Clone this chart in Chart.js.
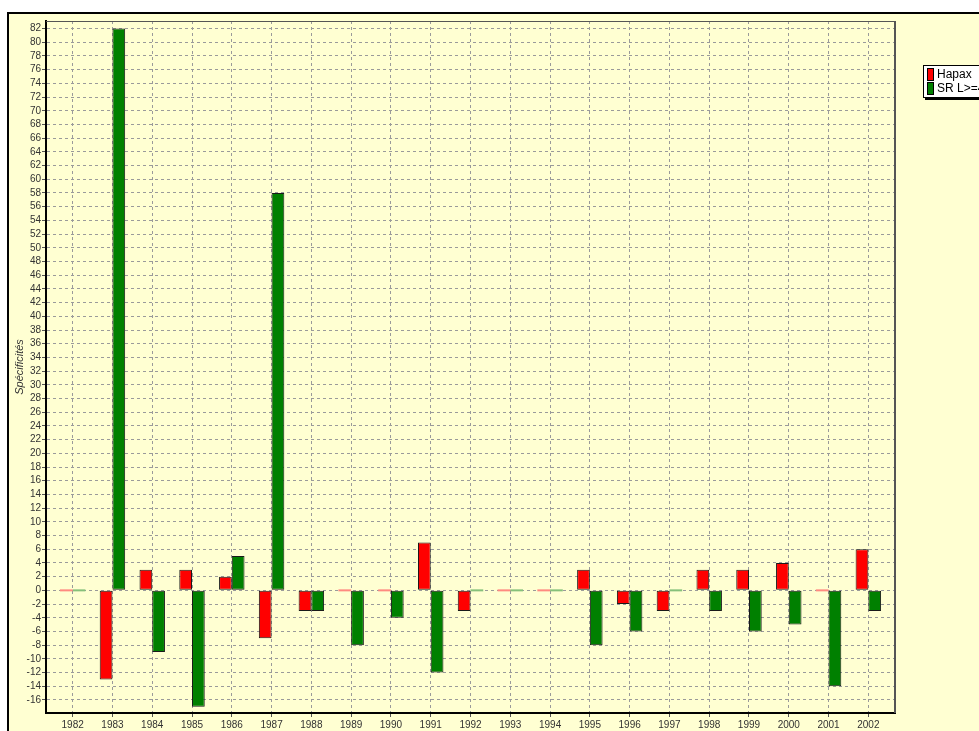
<!DOCTYPE html>
<html>
<head>
<meta charset="utf-8">
<script src="https://cdn.jsdelivr.net/npm/chart.js@4/dist/chart.umd.min.js"></script>
<style>
    body { margin: 0; background: #ffffff; overflow: hidden; font-family: "Liberation Sans", Arial, sans-serif; }
    #frame {
        position: absolute; left: 7px; top: 12px; width: 980px; height: 730px;
        border-left: 2px solid #000; border-top: 2px solid #000;
        background: #ffffd2;
    }
    #chart { position: absolute; left: 0; top: 0; }
    #legend {
        position: absolute; left: 914px; top: 51px; width: 80px; height: 31px;
        background: #fff; border: 1px solid #000; box-shadow: 2px 2px 0 #000;
        font-size: 12px; color: #000;
    }
    .item { position: absolute; left: 3px; height: 13px; line-height: 13px; white-space: nowrap; }
    .swatch { display: inline-block; width: 5px; height: 11px; border: 1px solid #000; vertical-align: top; margin-right: 3px; }
</style>
</head>
<body>
<div id="frame">
    <canvas id="chart" width="970" height="717"></canvas>
    <div id="legend">
        <div class="item" style="top:2px"><span class="swatch" style="background:#ff0000"></span>Hapax</div>
        <div class="item" style="top:16px"><span class="swatch" style="background:#008000"></span>SR L&gt;=4</div>
    </div>
</div>
<script>
document.addEventListener("DOMContentLoaded", function() {
    // Data
    const years = [1982, 1983, 1984, 1985, 1986, 1987, 1988, 1989, 1990, 1991, 1992,
                   1993, 1994, 1995, 1996, 1997, 1998, 1999, 2000, 2001, 2002];
    const hapax = [0, -13, 3, 3, 2, -7, -3, 0, 0, 7, -3, 0, 0, 3, -2, -3, 3, 3, 4, 0, 6];
    const srL4  = [0, 82, -9, -17, 5, 58, -3, -8, -4, -12, 0, 0, 0, -8, -6, 0, -3, -6, -5, -14, -3];
    const yTicks = [];
    for (let v = -16; v <= 82; v += 2) yTicks.push(v);

    const RED = '#ff0000';
    const GREEN = '#008000';
    const GRID = '#9a9a9a';

    function toPoints(values){
        return years.map((yr, i) => ({ x: yr, y: values[i] }));
    }

    // zero values are drawn as a faint line
    function makeDataset(label, values, color, faint){
        return {
            label: label,
            data: toPoints(values),
            backgroundColor: ctx => ctx.parsed && ctx.parsed.y === 0 ? faint : color,
            borderColor: '#1a1a1a',
            borderWidth: ctx => ctx.parsed && ctx.parsed.y === 0 ? 0 : 1,
            borderSkipped: false,
            minBarLength: 2,
            categoryPercentage: 0.64,
            barPercentage: 1
        };
    }

    // top and right edges of the plot frame
    const plotFrame = {
        id: 'plotFrame',
        afterDraw(chart){
            const a = chart.chartArea;
            const c = chart.ctx;
            c.save();
            c.strokeStyle = '#555555';
            c.lineWidth = 1;
            c.beginPath();
            c.moveTo(a.left, a.top + 0.5);
            c.lineTo(a.right, a.top + 0.5);
            c.stroke();
            c.lineWidth = 2;
            c.beginPath();
            c.moveTo(a.right, a.top);
            c.lineTo(a.right, a.bottom);
            c.stroke();
            c.restore();
        }
    };

    const tickFont = { family: '"Liberation Sans", Arial, sans-serif', size: 10 };

    new Chart(document.getElementById('chart'), {
        type: 'bar',
        data: {
            datasets: [
                makeDataset('Hapax', hapax, RED, '#ff8a80'),
                makeDataset('SR L>=4', srL4, GREEN, '#86c07a')
            ]
        },
        options: {
            responsive: false,
            animation: false,
            devicePixelRatio: 1,
            layout: { padding: { top: 6, right: 84, bottom: 0, left: 0 } },
            plugins: {
                legend: { display: false },
                tooltip: { enabled: false }
            },
            scales: {
                x: {
                    type: 'linear',
                    min: 1981.33,
                    max: 2002.67,
                    offset: false,
                    afterBuildTicks: s => { s.ticks = years.map(v => ({ value: v })); },
                    afterFit: s => { s.height = 18; },
                    ticks: { font: tickFont, color: '#333', padding: 2, maxRotation: 0, autoSkip: false,
                             callback: v => String(v) },
                    grid: { offset: false, color: GRID, lineWidth: 1, tickLength: 4, tickColor: '#555' },
                    border: { color: '#000', width: 2, dash: [3, 3] }
                },
                y: {
                    min: -17.9,
                    max: 83.1,
                    afterBuildTicks: s => { s.ticks = yTicks.map(v => ({ value: v })); },
                    afterFit: s => { s.width = 37; },
                    ticks: { font: tickFont, color: '#333', padding: 1, autoSkip: false },
                    grid: { color: GRID, lineWidth: 1, tickLength: 4, tickColor: '#555' },
                    border: { color: '#000', width: 2, dash: [3, 3] },
                    title: {
                        display: true,
                        text: 'Spécificités',
                        color: '#333',
                        padding: { top: 4, bottom: 0 },
                        font: { family: '"Liberation Sans", Arial, sans-serif', size: 11, style: 'italic' }
                    }
                }
            }
        },
        plugins: [plotFrame]
    });
});
</script>
</body>
</html>
